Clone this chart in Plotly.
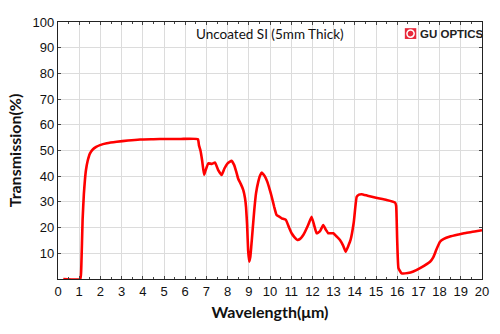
import plotly.graph_objects as go

# Measured transmission spectrum of uncoated silicon, 5 mm thick
wavelength_um = [0.25, 1.05, 1.1, 1.16, 1.22, 1.27, 1.32, 1.4, 1.51, 1.65, 1.8, 1.98,
                 2.3, 2.77, 3.3, 3.87, 4.5, 5.1, 5.8, 6.6, 6.65, 6.72, 6.8, 6.89, 6.95,
                 7.09, 7.25, 7.41, 7.55, 7.72, 7.85, 8.0, 8.19, 8.3, 8.4, 8.5, 8.62,
                 8.74, 8.82, 8.87, 8.92, 8.97, 9.02, 9.07, 9.12, 9.18, 9.26, 9.34, 9.45,
                 9.53, 9.61, 9.68, 9.75, 9.87, 9.98, 10.08, 10.2, 10.31, 10.45, 10.55,
                 10.75, 10.9, 11.02, 11.15, 11.29, 11.42, 11.57, 11.8, 11.96, 12.08,
                 12.2, 12.35, 12.51, 12.63, 12.75, 12.99, 13.15, 13.3, 13.45, 13.57,
                 13.7, 13.8, 13.95, 14.09, 14.2, 14.32, 14.6, 15.0, 15.5, 15.9, 15.95,
                 16.0, 16.06, 16.21, 16.5, 16.76, 17.1, 17.55, 17.7, 17.85, 18.02, 18.2,
                 18.49, 18.9, 19.28, 19.65, 20.0]
transmission_pct = [0, 0, 5, 23, 33, 38.5, 42.4, 46, 48.9, 50.5, 51.4, 52.1,
                    52.8, 53.4, 53.9, 54.3, 54.4, 54.5, 54.5, 54.4, 52, 50, 46, 40.5, 42,
                    45, 44.8, 45.3, 42.5, 40.5, 43, 45, 46, 44.5, 42, 39, 37,
                    34.6, 31.5, 28, 21, 11, 6.7, 8.5, 13, 19, 27, 33.3, 38,
                    40.3, 41.4, 40.8, 40, 37.9, 35, 32, 28, 24.9, 24.2, 23.6,
                    23, 20, 17.8, 16.3, 15.2, 15.6, 17.1, 21, 24.2, 21,
                    17.8, 18.5, 21, 19.2, 17.8, 17.8, 16.5, 15.2, 13, 10.6,
                    13, 15.2, 22, 32, 32.8, 33, 32.4, 31.6, 30.7, 29.7, 28.5,
                    15, 4.2, 2.2, 2.3, 2.9, 4.3, 6.7, 8.4, 11.5, 14.5, 15.6,
                    16.5, 17.3, 18, 18.5, 19]

x_ticks = list(range(0, 21))
y_ticks = list(range(10, 101, 10))

fig = go.Figure()
fig.add_trace(go.Scatter(
    x=wavelength_um, y=transmission_pct, mode="lines",
    line=dict(color="#ff0000", width=2.6, shape="spline", smoothing=0.35),
    showlegend=False,
))

axis_common = dict(
    showline=True, linecolor="#222", linewidth=1.2, mirror="allticks",
    showgrid=True, gridcolor="#dcdcdc", gridwidth=1,
    ticks="inside", ticklen=3, tickcolor="#444",
    tickfont=dict(family="Liberation Sans, Arial", size=13, color="#111"),
    zeroline=False,
)

fig.update_xaxes(
    range=[0, 20], tickvals=x_ticks, ticktext=[str(v) for v in x_ticks],
    minor=dict(dtick=0.5, ticks="inside", ticklen=2, tickcolor="#444", showgrid=False),
    title=dict(text="<b>Wavelength(μm)</b>", standoff=9,
               font=dict(family="Lato", size=16, color="#111")),
    **axis_common,
)
fig.update_yaxes(
    range=[0, 100], tickvals=y_ticks, ticktext=[str(v) for v in y_ticks],
    title=dict(text="<b>Transmission(%)</b>", standoff=6,
               font=dict(family="Lato", size=16, color="#111")),
    **axis_common,
)

fig.add_annotation(
    text="Uncoated SI (5mm Thick)", xref="paper", yref="paper",
    x=0.50, y=0.955, xanchor="center", yanchor="middle", showarrow=False,
    font=dict(family="Lato", size=13.5, color="#111"),
)

# brand mark: red rounded badge with a ring, followed by the name
fig.add_shape(type="rect", xref="paper", yref="paper",
              x0=0.818, x1=0.845, y0=0.934, y1=0.976,
              fillcolor="#e8283a", line=dict(width=0))
fig.add_shape(type="circle", xref="paper", yref="paper",
              x0=0.823, x1=0.840, y0=0.941, y1=0.969,
              fillcolor="rgba(0,0,0,0)", line=dict(color="white", width=1.5))
fig.add_annotation(
    text="<b>GU OPTICS</b>", xref="paper", yref="paper",
    x=0.848, y=0.955, xanchor="left", yanchor="middle", showarrow=False,
    font=dict(family="Liberation Sans, Arial", size=11.5, color="#222"),
)

fig.update_layout(
    width=500, height=334,
    margin=dict(l=58, r=18, t=22, b=55),
    paper_bgcolor="white", plot_bgcolor="white",
)

fig.write_html("out.html")
